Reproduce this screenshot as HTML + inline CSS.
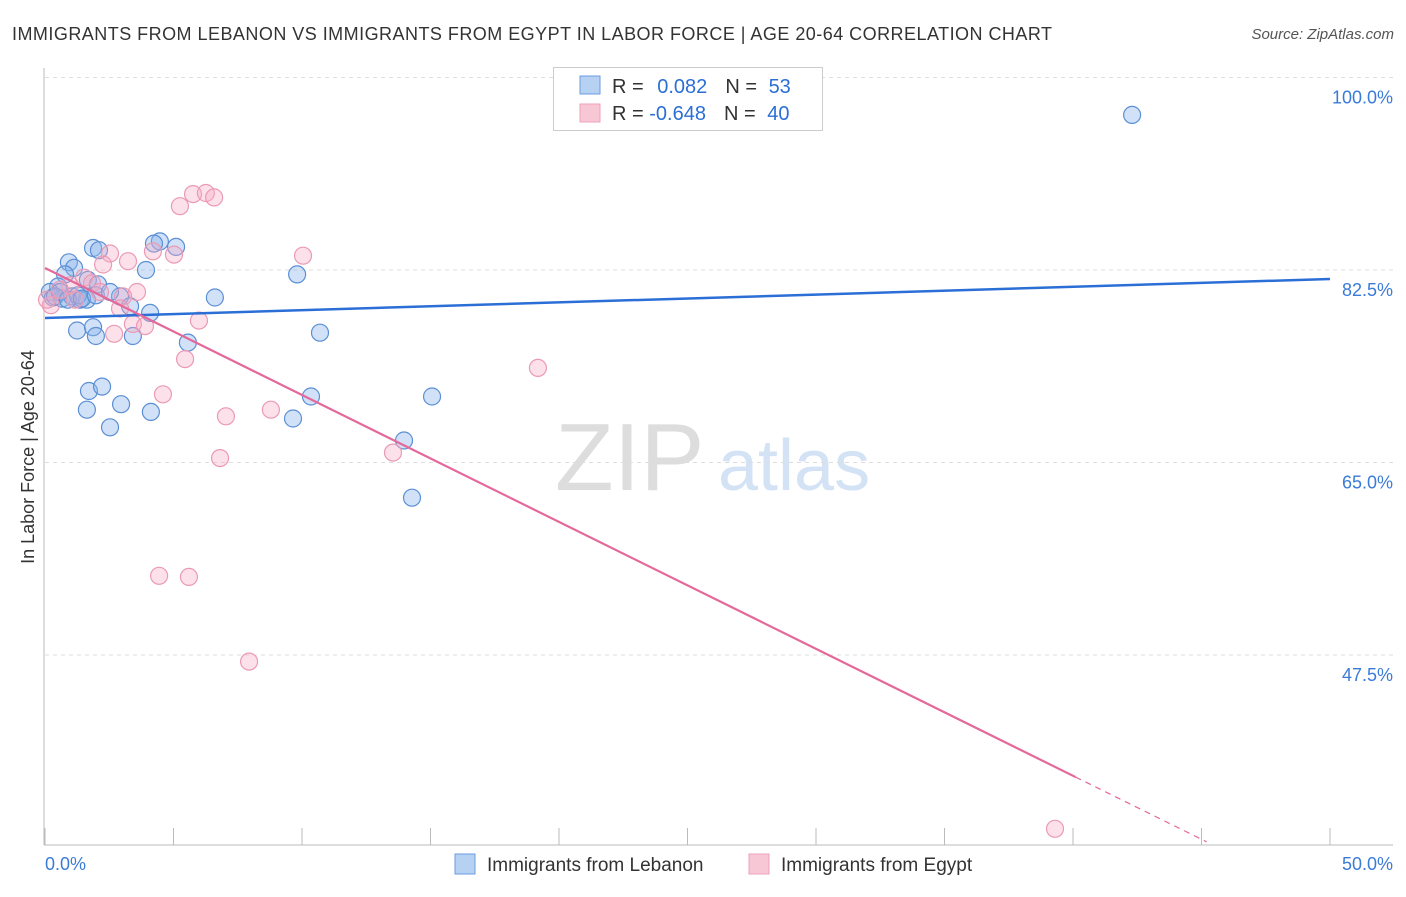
<!DOCTYPE html>
<html><head><meta charset="utf-8"><style>
body{margin:0;background:#fff;font-family:"Liberation Sans",sans-serif}
svg text{font-family:"Liberation Sans",sans-serif}
</style></head><body>
<svg id="c" width="1406" height="892">
<text x="12" y="40" font-size="18" fill="#333" textLength="1040" lengthAdjust="spacing">IMMIGRANTS FROM LEBANON VS IMMIGRANTS FROM EGYPT IN LABOR FORCE | AGE 20-64 CORRELATION CHART</text>
<text x="1394" y="39" font-size="15" fill="#555" font-style="italic" text-anchor="end">Source: ZipAtlas.com</text>
<text transform="translate(34,457) rotate(-90)" font-size="18" fill="#333" text-anchor="middle">In Labor Force | Age 20-64</text>
<text x="555" y="490" font-size="96" fill="#ddd" font-family="Liberation Serif">ZIP</text>
<text x="718" y="490" font-size="72" fill="#d3e2f5">atlas</text>
<g id="grid"></g><g id="marks"></g>
<g>
<rect x="553.5" y="67.5" width="269" height="63" fill="#fff" stroke="#ccc"/>
<rect x="580" y="76" width="20" height="18" fill="#b7d1f3" stroke="#6b9be0"/>
<rect x="580" y="104" width="20" height="18" fill="#f8c7d6" stroke="#eea0ba"/>
<text x="612" y="93" font-size="20" fill="#333">R = <tspan fill="#2b6fd6" dx="8">0.082</tspan><tspan dx="18" fill="#333">N = </tspan><tspan fill="#2b6fd6" dx="6">53</tspan></text>
<text x="612" y="120" font-size="20" fill="#333">R = <tspan fill="#2b6fd6">-0.648</tspan><tspan dx="18" fill="#333">N = </tspan><tspan fill="#2b6fd6" dx="6">40</tspan></text>
</g>
<g>
<rect x="455" y="854" width="20" height="20" fill="#b7d1f3" stroke="#6b9be0"/>
<text x="487" y="871" font-size="19" fill="#333">Immigrants from Lebanon</text>
<rect x="749" y="854" width="20" height="20" fill="#f8c7d6" stroke="#eea0ba"/>
<text x="781" y="871" font-size="19" fill="#333">Immigrants from Egypt</text>
</g>
</svg>
<script>
const yTicks=[100,82.5,65,47.5];
const xTickLabels=["0.0%","50.0%"];
const blueX=[42.3,4.47,4.24,5.10,1.87,2.10,0.93,1.13,3.93,9.81,0.78,1.67,2.06,0.51,0.19,0.31,0.66,1.05,1.36,1.63,1.28,2.92,6.61,3.31,4.09,1.25,1.87,1.98,3.42,10.70,5.56,1.71,2.22,10.35,15.06,1.63,2.96,4.12,9.65,2.53,13.97,14.28,0.39,0.58,0.89,1.44,1.98,2.53];
const blueY=[96.6,85.1,84.9,84.6,84.5,84.3,83.2,82.7,82.5,82.1,82.1,81.6,81.2,81.0,80.5,80.0,79.9,80.1,79.8,79.8,80.2,80.1,80.0,79.2,78.6,77.0,77.3,76.5,76.5,76.8,75.9,71.5,71.9,71.0,71.0,69.8,70.3,69.6,69.0,68.2,67.0,61.8,80.1,80.5,79.8,79.9,80.2,80.5];
const pinkX=[39.3,5.76,6.26,6.58,5.25,10.04,5.02,4.20,2.53,3.23,2.26,1.52,1.83,0.97,3.58,3.04,2.14,2.92,0.23,0.08,3.42,3.89,5.99,2.69,5.45,19.18,4.59,8.79,7.04,13.54,6.81,4.44,5.60,7.94,0.58,1.17];
const pinkY=[31.7,89.4,89.5,89.1,88.3,83.8,83.9,84.2,84.0,83.3,83.0,81.8,81.3,81.1,80.5,80.1,80.5,79.0,79.3,79.8,77.6,77.4,77.9,76.7,74.4,73.6,71.2,69.8,69.2,65.9,65.4,54.7,54.6,46.9,80.7,79.8];
const blueFit=[78.14,81.68];
const pinkFit=[82.68,-1.154];
const xs=v=>45+v/50*1285, ys=v=>77.5+(100-v)*11;
const NS="http://www.w3.org/2000/svg";
const grid=document.getElementById('grid'), marks=document.getElementById('marks');
function mk(p,tag,a){const e=document.createElementNS(NS,tag);for(const k in a)e.setAttribute(k,a[k]);p.appendChild(e);return e;}
yTicks.forEach(t=>{
 const l=mk(grid,'line',{x1:45,x2:1393,y1:ys(t),y2:ys(t),stroke:'#ddd','stroke-dasharray':'4,4'});
 
 
 const tx=mk(grid,'text',{x:1393,y:ys(t)+26,'font-size':18,fill:'#3b7bd8','text-anchor':'end'});
 tx.textContent=t.toFixed(1)+'%';
 
 
});
mk(grid,'line',{x1:44,x2:44,y1:68,y2:845,stroke:'#bbb'});
mk(grid,'line',{x1:44,x2:1393,y1:845,y2:845,stroke:'#bbb'});
for(let i=0;i<=10;i++){const x=xs(i*5);mk(grid,'line',{x1:x,x2:x,y1:828,y2:845,stroke:'#bbb'});}
[[0,'start',45],[50,'end',1393]].forEach((d,i)=>{
 const tx=mk(grid,'text',{x:d[2],y:870,'font-size':18,fill:'#3b7bd8','text-anchor':d[1]});
 tx.textContent=xTickLabels[i];
 
 
});
blueX.forEach((v,i)=>{
 const c=mk(marks,'circle',{cx:xs(v),cy:ys(blueY[i]),r:8.5,fill:'rgba(140,180,235,0.4)',stroke:'#5b8fd6','stroke-width':1.2});
 
 
});
pinkX.forEach((v,i)=>{
 const c=mk(marks,'circle',{cx:xs(v),cy:ys(pinkY[i]),r:8.5,fill:'rgba(245,170,195,0.35)',stroke:'#eb9ab5','stroke-width':1.2});
 
 
});
const bl=mk(marks,'line',{x1:xs(0),y1:ys(blueFit[0]),x2:xs(50),y2:ys(blueFit[1]),stroke:'#2b6fd6','stroke-width':2.5});


const pe=p=>pinkFit[0]+pinkFit[1]*p;
const pl=mk(marks,'line',{x1:xs(0),y1:ys(pe(0)),x2:xs(40.1),y2:ys(pe(40.1)),stroke:'#e4699a','stroke-width':2.2});


const pd=mk(marks,'line',{x1:xs(40.1),y1:ys(pe(40.1)),x2:xs(45.2),y2:ys(pe(45.2)),stroke:'#e4699a','stroke-width':1.2,'stroke-dasharray':'6,5'});


</script>
</body></html>
